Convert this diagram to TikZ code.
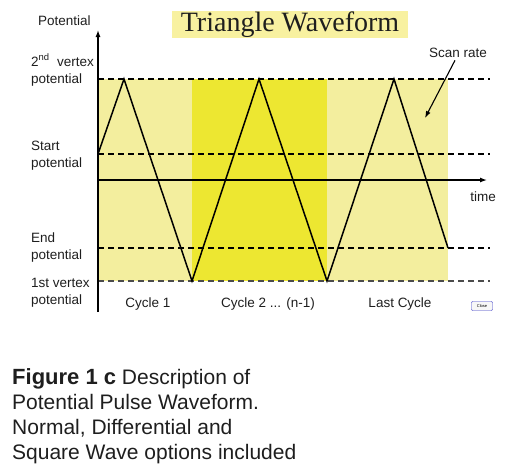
\documentclass[tikz,border=0pt]{standalone}
\usepackage{fontspec}
\setmainfont{Liberation Sans}
\newfontfamily\titlefont{Liberation Serif}
\usetikzlibrary{arrows.meta,positioning}
\definecolor{paleyellow}{RGB}{243,238,158}
\definecolor{brightyellow}{RGB}{237,231,49}
\definecolor{titleyellow}{RGB}{248,241,160}
\definecolor{inkgray}{RGB}{30,30,30}

\begin{document}
\begin{tikzpicture}[x=1pt,y=-1pt,
    lbl/.style={font=\fontsize{13.5}{17}\selectfont, inner sep=0pt, text=inkgray, align=left},
    level/.style={dash pattern=on 6pt off 4pt, line width=1.1pt},
    wave/.style={line width=1.5pt, line join=miter},
    axis/.style={line width=1.3pt, -{Latex[length=7pt,width=5pt]}},
  ]
  \useasboundingbox (0,0) rectangle (529,472);

  % axes and waveform corners
  \coordinate (ytop) at (98,30);
  \coordinate (ybot) at (98,312);
  \coordinate (torig) at (98,180);
  \coordinate (tend) at (487,180);
  \coordinate (w0) at (98,154);
  \coordinate (w1) at (124,79);
  \coordinate (w2) at (192,281);
  \coordinate (w3) at (259,79);
  \coordinate (w4) at (327,281);
  \coordinate (w5) at (394,79);
  \coordinate (w6) at (448,248);

  % cycle bands
  \fill[paleyellow] (98,79) rectangle (192,281);
  \fill[brightyellow] (192,79) rectangle (327,281);
  \fill[paleyellow] (327,79) rectangle (448,281);

  % potential levels
  \coordinate (v2a) at (98,79);   \coordinate (v2b) at (490,79);
  \coordinate (sta) at (98,154);  \coordinate (stb) at (490,154);
  \coordinate (ena) at (98,248);  \coordinate (enb) at (490,248);
  \coordinate (v1a) at (98,281);  \coordinate (v1b) at (490,281);
  \draw[level] (v2a) -- (v2b);
  \draw[level] (sta) -- (stb);
  \draw[level] (ena) -- (enb);
  \draw[level, inkgray!80] (v1a) -- (v1b);

  \draw[axis] (ybot) -- (ytop);
  \draw[axis] (torig) -- (tend);
  \draw[wave] (w0) -- (w1) -- (w2) -- (w3) -- (w4) -- (w5) -- (w6);

  % title
  \node[fill=titleyellow, minimum width=236pt, minimum height=27pt, inner sep=0pt,
        font=\titlefont\fontsize{28}{28}\selectfont, text=inkgray] (title) at (290,24.5) {Triangle Waveform};

  % labels (base = last line)
  \node[lbl, anchor=base west] (potlbl) at (38,25) {Potential};
  \node[lbl, anchor=base west] (v2lbl) at (31,83) {2\textsuperscript{nd}\ \ vertex\\potential};
  \node[lbl, anchor=base west] (stlbl) at (31,167) {Start\\potential};
  \node[lbl, anchor=base west] (enlbl) at (31,259) {End\\potential};
  \node[lbl, anchor=base west] (v1lbl) at (31,304) {1st vertex\\potential};
  \node[lbl, anchor=base] (cyc1) at (148,307) {Cycle 1};
  \node[lbl, anchor=base] (cycn) at (268,307) {Cycle 2 ... (n-1)};
  \node[lbl, anchor=base] (cyclast) at (400,307) {Last Cycle};
  \node[lbl, anchor=base] (timelbl) at (483,201) {time};
  \node[lbl, anchor=base] (scan) at (458,57) {Scan rate};
  \coordinate (srtip) at (425,118);
  \draw[line width=1.1pt, -{Latex[length=7pt,width=5pt]}] ([xshift=-3pt,yshift=-3pt]scan.south) -- (srtip);

  % close button
  \node[draw=blue!55!gray, fill=gray!6, rounded corners=1pt, minimum width=21pt, minimum height=9pt,
        inner sep=0pt, font=\fontsize{4}{4}\selectfont] (closebtn) at (482,306) {Close};

  % caption
  \node[anchor=base west, align=left, inner sep=0pt, text=inkgray,
        font=\fontsize{21}{25}\selectfont] (caption) at (12,459)
    {{\fontsize{22}{25}\selectfont\textbf{Figure 1 c}} Description of\\Potential Pulse Waveform.\\Normal, Differential and\\Square Wave options included};
\end{tikzpicture}
\end{document}
